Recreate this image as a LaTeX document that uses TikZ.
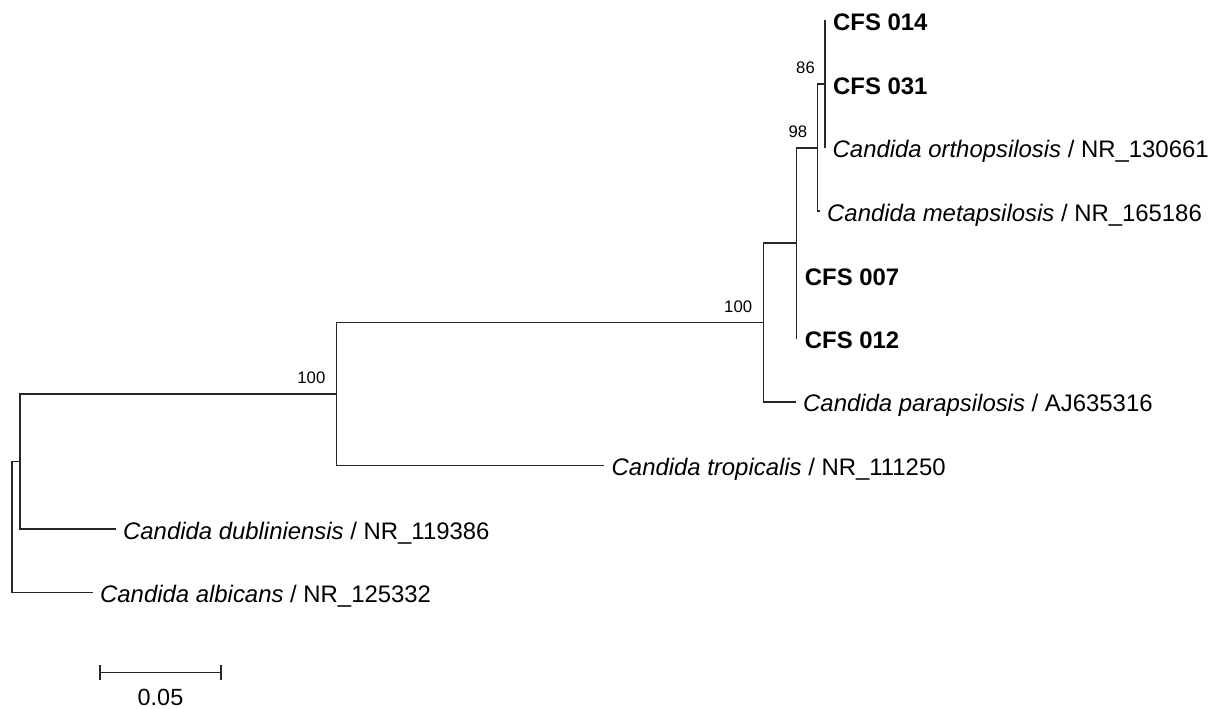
\documentclass[tikz,border=0pt]{standalone}
\usepackage{fontspec}
\setmainfont{Liberation Sans}
\usetikzlibrary{calc}
\begin{document}
\begin{tikzpicture}[x=1pt,y=-1pt,
  br/.style={line width=1.5pt, draw=black!85, line cap=rect},
  lab/.style={anchor=base west, inner sep=0pt, font=\fontsize{23.9}{28}\selectfont},
  boot/.style={anchor=south east, inner sep=0pt, font=\fontsize{16.7}{20}\selectfont},
  sclab/.style={anchor=base, inner sep=0pt, font=\fontsize{23.4}{28}\selectfont}]
\useasboundingbox (0,0) rectangle (1221,709);
% internal nodes
\coordinate (F) at (825,84.1);
\coordinate (E) at (817.3,147.8);
\coordinate (D) at (796.7,243.0);
\coordinate (C) at (763.3,322.4);
\coordinate (B) at (336.5,393.9);
\coordinate (A) at (20,461.5);
\coordinate (R) at (12,527);
% leaf tips
\coordinate (l1) at (825,20.5);
\coordinate (l2) at (825,84.1);
\coordinate (l3) at (825.5,147.6);
\coordinate (l4) at (819,211.2);
\coordinate (l5) at (796.7,274.7);
\coordinate (l6) at (796.7,338.3);
\coordinate (l7) at (795,401.9);
\coordinate (l8) at (603.5,465.4);
\coordinate (l9) at (115,529.0);
\coordinate (l10) at (92,592.5);
% labels
\node[lab] (t1) at ($(l1)+(8,10.5)$) {\textbf{CFS 014}};
\node[lab] (t2) at ($(l2)+(8,10.5)$) {\textbf{CFS 031}};
\node[lab] (t3) at ($(l3)+(7,10)$) {\textit{Candida orthopsilosis} / NR\_130661};
\node[lab] (t4) at ($(l4)+(8,10)$) {\textit{Candida metapsilosis} / NR\_165186};
\node[lab] (t5) at ($(l5)+(8,10.5)$) {\textbf{CFS 007}};
\node[lab] (t6) at ($(l6)+(8,10.5)$) {\textbf{CFS 012}};
\node[lab] (t7) at ($(l7)+(8,10)$) {\textit{Candida parapsilosis} / AJ635316};
\node[lab] (t8) at ($(l8)+(8,10)$) {\textit{Candida tropicalis} / NR\_111250};
\node[lab] (t9) at ($(l9)+(8,10)$) {\textit{Candida dubliniensis} / NR\_119386};
\node[lab] (t10) at ($(l10)+(8,10)$) {\textit{Candida albicans} / NR\_125332};
% branches
\draw[br] (R) |- (A);
\draw[br] (R) |- (l10);
\draw[br] (A) |- (B);
\draw[br] (A) |- (l9);
\draw[br] (B) |- (C);
\draw[br] (B) |- (l8);
\draw[br] (C) |- (D);
\draw[br] (C) |- (l7);
\draw[br] (D) |- (E);
\draw[br] (D) |- (l5);
\draw[br] (D) |- (l6);
\draw[br] (E) |- (F);
\draw[br] (E) |- (l4);
\draw[br] (F) |- (l1);
\draw[br] (F) |- (l2);
\draw[br] (F) |- (l3);
% bootstrap values
\node[boot] (b1) at ($(F)+(-10,-10)$) {86};
\node[boot] (b2) at ($(E)+(-10,-10)$) {98};
\node[boot] (b3) at ($(C)+(-11,-10)$) {100};
\node[boot] (b4) at ($(B)+(-11,-10)$) {100};
% scale bar
\coordinate (s1) at (100,672.3);
\coordinate (s2) at (221,672.3);
\draw[br, line cap=butt] (s1) -- (s2);
\draw[br, line cap=butt] ($(s1)+(0,-7.5)$) -- ($(s1)+(0,7.5)$);
\draw[br, line cap=butt] ($(s2)+(0,-7.5)$) -- ($(s2)+(0,7.5)$);
\node[sclab] (sl) at ($(s1)!0.5!(s2)+(0,33)$) {0.05};
\end{tikzpicture}
\end{document}
